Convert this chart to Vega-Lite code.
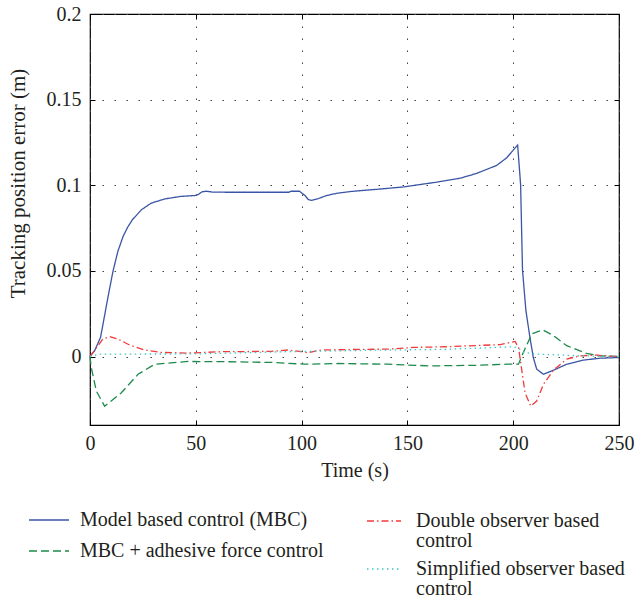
{
  "$schema": "https://vega.github.io/schema/vega-lite/v6.json",
  "width": 529,
  "height": 411,
  "autosize": "none",
  "padding": {"left": 90, "top": 14, "right": 17, "bottom": 173},
  "config": {
    "view": {"stroke": "#000", "strokeWidth": 1.2},
    "font": "Liberation Serif",
    "axis": {
      "labelFont": "Liberation Serif",
      "titleFont": "Liberation Serif",
      "labelFontSize": 20,
      "titleFontSize": 20,
      "titleFontWeight": "normal",
      "labelColor": "#231f20",
      "titleColor": "#231f20",
      "labelFlush": false,
      "domain": false,
      "tickColor": "#000",
      "tickSize": -5,
      "gridColor": "#444",
      "gridDash": [1.5, 10.5],
      "gridOpacity": 1,
      "gridWidth": 1
    }
  },
  "datasets": {
    "a": [
      {"t": 0, "v": 0, "s": "Model based control (MBC)"},
      {"t": 2.2, "v": 0.0034, "s": "Model based control (MBC)"},
      {"t": 5, "v": 0.0112, "s": "Model based control (MBC)"},
      {"t": 8.5, "v": 0.0347, "s": "Model based control (MBC)"},
      {"t": 10.9, "v": 0.05, "s": "Model based control (MBC)"},
      {"t": 13.2, "v": 0.0615, "s": "Model based control (MBC)"},
      {"t": 15.6, "v": 0.07, "s": "Model based control (MBC)"},
      {"t": 17.8, "v": 0.0755, "s": "Model based control (MBC)"},
      {"t": 20, "v": 0.0798, "s": "Model based control (MBC)"},
      {"t": 24.3, "v": 0.0857, "s": "Model based control (MBC)"},
      {"t": 29, "v": 0.0896, "s": "Model based control (MBC)"},
      {"t": 35.3, "v": 0.092, "s": "Model based control (MBC)"},
      {"t": 43, "v": 0.0935, "s": "Model based control (MBC)"},
      {"t": 49.5, "v": 0.094, "s": "Model based control (MBC)"},
      {"t": 51, "v": 0.0945, "s": "Model based control (MBC)"},
      {"t": 53, "v": 0.0962, "s": "Model based control (MBC)"},
      {"t": 55, "v": 0.0965, "s": "Model based control (MBC)"},
      {"t": 58, "v": 0.096, "s": "Model based control (MBC)"},
      {"t": 66, "v": 0.0959, "s": "Model based control (MBC)"},
      {"t": 94, "v": 0.0959, "s": "Model based control (MBC)"},
      {"t": 95, "v": 0.0965, "s": "Model based control (MBC)"},
      {"t": 99, "v": 0.0965, "s": "Model based control (MBC)"},
      {"t": 101.6, "v": 0.094, "s": "Model based control (MBC)"},
      {"t": 103.2, "v": 0.0916, "s": "Model based control (MBC)"},
      {"t": 104.8, "v": 0.0912, "s": "Model based control (MBC)"},
      {"t": 107.9, "v": 0.0922, "s": "Model based control (MBC)"},
      {"t": 111.8, "v": 0.094, "s": "Model based control (MBC)"},
      {"t": 116.6, "v": 0.0953, "s": "Model based control (MBC)"},
      {"t": 122.9, "v": 0.0963, "s": "Model based control (MBC)"},
      {"t": 129.2, "v": 0.097, "s": "Model based control (MBC)"},
      {"t": 136.3, "v": 0.0977, "s": "Model based control (MBC)"},
      {"t": 148, "v": 0.099, "s": "Model based control (MBC)"},
      {"t": 163.8, "v": 0.1018, "s": "Model based control (MBC)"},
      {"t": 174.9, "v": 0.1041, "s": "Model based control (MBC)"},
      {"t": 182.7, "v": 0.1069, "s": "Model based control (MBC)"},
      {"t": 192.2, "v": 0.1116, "s": "Model based control (MBC)"},
      {"t": 196.9, "v": 0.116, "s": "Model based control (MBC)"},
      {"t": 202.1, "v": 0.1235, "s": "Model based control (MBC)"},
      {"t": 203.5, "v": 0.1004, "s": "Model based control (MBC)"},
      {"t": 204.4, "v": 0.0504, "s": "Model based control (MBC)"},
      {"t": 206, "v": 0.0269, "s": "Model based control (MBC)"},
      {"t": 207.9, "v": 0.0112, "s": "Model based control (MBC)"},
      {"t": 209.5, "v": -0.0006, "s": "Model based control (MBC)"},
      {"t": 211.1, "v": -0.0074, "s": "Model based control (MBC)"},
      {"t": 214.3, "v": -0.0104, "s": "Model based control (MBC)"},
      {"t": 219, "v": -0.008, "s": "Model based control (MBC)"},
      {"t": 225.3, "v": -0.0045, "s": "Model based control (MBC)"},
      {"t": 233.2, "v": -0.0021, "s": "Model based control (MBC)"},
      {"t": 241, "v": -0.001, "s": "Model based control (MBC)"},
      {"t": 250, "v": -0.0006, "s": "Model based control (MBC)"},
      {"t": 0, "v": 0, "s": "MBC + adhesive force control"},
      {"t": 0.6, "v": -0.0065, "s": "MBC + adhesive force control"},
      {"t": 3, "v": -0.0202, "s": "MBC + adhesive force control"},
      {"t": 6.9, "v": -0.029, "s": "MBC + adhesive force control"},
      {"t": 14.8, "v": -0.0212, "s": "MBC + adhesive force control"},
      {"t": 22.7, "v": -0.0104, "s": "MBC + adhesive force control"},
      {"t": 30.6, "v": -0.0045, "s": "MBC + adhesive force control"},
      {"t": 46.3, "v": -0.0029, "s": "MBC + adhesive force control"},
      {"t": 62, "v": -0.003, "s": "MBC + adhesive force control"},
      {"t": 87.2, "v": -0.0035, "s": "MBC + adhesive force control"},
      {"t": 101.5, "v": -0.0045, "s": "MBC + adhesive force control"},
      {"t": 117.2, "v": -0.0041, "s": "MBC + adhesive force control"},
      {"t": 140.8, "v": -0.0045, "s": "MBC + adhesive force control"},
      {"t": 160.7, "v": -0.0055, "s": "MBC + adhesive force control"},
      {"t": 184.3, "v": -0.0051, "s": "MBC + adhesive force control"},
      {"t": 196.9, "v": -0.0045, "s": "MBC + adhesive force control"},
      {"t": 202.5, "v": -0.0045, "s": "MBC + adhesive force control"},
      {"t": 204.8, "v": 0.0024, "s": "MBC + adhesive force control"},
      {"t": 208.8, "v": 0.0132, "s": "MBC + adhesive force control"},
      {"t": 214, "v": 0.0155, "s": "MBC + adhesive force control"},
      {"t": 219, "v": 0.0122, "s": "MBC + adhesive force control"},
      {"t": 225.3, "v": 0.0063, "s": "MBC + adhesive force control"},
      {"t": 234.7, "v": 0.0018, "s": "MBC + adhesive force control"},
      {"t": 241, "v": 0.0004, "s": "MBC + adhesive force control"},
      {"t": 250, "v": 0, "s": "MBC + adhesive force control"}
    ],
    "b": [
      {"t": 0, "v": 0, "s": "Double observer based control"},
      {"t": 3.8, "v": 0.0063, "s": "Double observer based control"},
      {"t": 6.1, "v": 0.0102, "s": "Double observer based control"},
      {"t": 9.3, "v": 0.0116, "s": "Double observer based control"},
      {"t": 13.2, "v": 0.0102, "s": "Double observer based control"},
      {"t": 18.7, "v": 0.0067, "s": "Double observer based control"},
      {"t": 25.8, "v": 0.0038, "s": "Double observer based control"},
      {"t": 33.7, "v": 0.0024, "s": "Double observer based control"},
      {"t": 46.3, "v": 0.002, "s": "Double observer based control"},
      {"t": 62, "v": 0.0028, "s": "Double observer based control"},
      {"t": 85.7, "v": 0.003, "s": "Double observer based control"},
      {"t": 93.6, "v": 0.0038, "s": "Double observer based control"},
      {"t": 99.9, "v": 0.0028, "s": "Double observer based control"},
      {"t": 103, "v": 0.0022, "s": "Double observer based control"},
      {"t": 109.3, "v": 0.0038, "s": "Double observer based control"},
      {"t": 125, "v": 0.0041, "s": "Double observer based control"},
      {"t": 140.8, "v": 0.0043, "s": "Double observer based control"},
      {"t": 152.8, "v": 0.0053, "s": "Double observer based control"},
      {"t": 168.6, "v": 0.0057, "s": "Double observer based control"},
      {"t": 184.3, "v": 0.0065, "s": "Double observer based control"},
      {"t": 193.8, "v": 0.0069, "s": "Double observer based control"},
      {"t": 200.9, "v": 0.0088, "s": "Double observer based control"},
      {"t": 202.5, "v": 0.0053, "s": "Double observer based control"},
      {"t": 204.1, "v": -0.0084, "s": "Double observer based control"},
      {"t": 205.6, "v": -0.0212, "s": "Double observer based control"},
      {"t": 208.3, "v": -0.029, "s": "Double observer based control"},
      {"t": 211.1, "v": -0.026, "s": "Double observer based control"},
      {"t": 214.3, "v": -0.0162, "s": "Double observer based control"},
      {"t": 219, "v": -0.008, "s": "Double observer based control"},
      {"t": 225.3, "v": -0.0015, "s": "Double observer based control"},
      {"t": 231.6, "v": 0.0004, "s": "Double observer based control"},
      {"t": 239.5, "v": 0.0008, "s": "Double observer based control"},
      {"t": 250, "v": -0.0002, "s": "Double observer based control"},
      {"t": 0, "v": 0, "s": "Simplified observer based control"},
      {"t": 4.7, "v": 0.0014, "s": "Simplified observer based control"},
      {"t": 50, "v": 0.0015, "s": "Simplified observer based control"},
      {"t": 93, "v": 0.0028, "s": "Simplified observer based control"},
      {"t": 141, "v": 0.0038, "s": "Simplified observer based control"},
      {"t": 168.6, "v": 0.0042, "s": "Simplified observer based control"},
      {"t": 200, "v": 0.0057, "s": "Simplified observer based control"},
      {"t": 202.5, "v": 0.005, "s": "Simplified observer based control"},
      {"t": 204.8, "v": 0.0024, "s": "Simplified observer based control"},
      {"t": 211, "v": 0.0014, "s": "Simplified observer based control"},
      {"t": 223.7, "v": 0.0008, "s": "Simplified observer based control"},
      {"t": 231.6, "v": 0.0004, "s": "Simplified observer based control"},
      {"t": 250, "v": 0, "s": "Simplified observer based control"}
    ]
  },
  "layer": [
    {
      "data": {"name": "a"},
      "mark": {"type": "line", "strokeWidth": 1.3},
      "encoding": {
        "x": {
          "field": "t", "type": "quantitative",
          "scale": {"domain": [0, 250], "nice": false},
          "axis": {"orient": "bottom", "values": [0, 50, 100, 150, 200, 250], "title": "Time (s)", "labelPadding": 13, "titleBaseline": "middle", "titleY": 45, "grid": true}
        },
        "y": {
          "field": "v", "type": "quantitative",
          "scale": {"domain": [-0.04, 0.2], "nice": false, "zero": false},
          "axis": {"orient": "left", "values": [0, 0.05, 0.1, 0.15, 0.2], "format": "~g", "title": "Tracking position error (m)", "titleFontSize": 21, "labelPadding": 14, "titleAngle": -90, "titleBaseline": "middle", "titleX": -72, "titleY": 169, "grid": true}
        },
        "color": {
          "field": "s", "type": "nominal",
          "scale": {"domain": ["Model based control (MBC)", "MBC + adhesive force control"], "range": ["#3a55a5", "#1b8a4a"]},
          "legend": {"orient": "none", "legendX": -62, "legendY": 485, "title": null, "symbolType": "stroke", "symbolSize": 1600, "symbolStrokeWidth": 1.3, "labelFont": "Liberation Serif", "labelFontSize": 20, "labelColor": "#231f20", "labelOffset": 10, "rowPadding": -4, "labelLimit": 400, "direction": "vertical"}
        },
        "strokeDash": {
          "field": "s", "type": "nominal",
          "scale": {"domain": ["Model based control (MBC)", "MBC + adhesive force control"], "range": [[1, 0], [8, 4]]},
          "legend": {"orient": "none", "legendX": -62, "legendY": 485, "title": null, "symbolType": "stroke", "symbolSize": 1600, "symbolStrokeWidth": 1.3, "labelFont": "Liberation Serif", "labelFontSize": 20, "labelColor": "#231f20", "labelOffset": 10, "rowPadding": -4, "labelLimit": 400, "direction": "vertical"}
        }
      }
    },
    {
      "data": {"name": "b"},
      "mark": {"type": "line", "strokeWidth": 1.3},
      "encoding": {
        "x": {
          "field": "t", "type": "quantitative",
          "axis": {"orient": "top", "values": [0, 50, 100, 150, 200, 250], "title": null, "labels": false, "grid": false}
        },
        "y": {
          "field": "v", "type": "quantitative",
          "axis": {"orient": "right", "values": [0, 0.05, 0.1, 0.15, 0.2], "title": null, "labels": false, "grid": false}
        },
        "color": {
          "field": "s", "type": "nominal",
          "scale": {"domain": ["Double observer based control", "Simplified observer based control"], "range": ["#f23a3a", "#3cc6c6"]},
          "legend": {"orient": "none", "legendX": 276, "legendY": 489, "title": null, "symbolType": "stroke", "symbolSize": 1156, "symbolStrokeWidth": 1.3, "labelFont": "Liberation Serif", "labelFontSize": 20, "labelColor": "#231f20", "labelOffset": 14, "rowPadding": -5, "labelLimit": 400, "direction": "vertical", "labelExpr": "datum.label == 'Double observer based control' ? ['Double observer based', 'control'] : ['Simplified observer based', 'control']", "encode": {"labels": {"update": {"lineHeight": {"value": 20}}}}}
        },
        "strokeDash": {
          "field": "s", "type": "nominal",
          "scale": {"domain": ["Double observer based control", "Simplified observer based control"], "range": [[7, 3, 1.5, 3], [1.5, 3.5]]},
          "legend": {"orient": "none", "legendX": 276, "legendY": 489, "title": null, "symbolType": "stroke", "symbolSize": 1156, "symbolStrokeWidth": 1.3, "labelFont": "Liberation Serif", "labelFontSize": 20, "labelColor": "#231f20", "labelOffset": 14, "rowPadding": -5, "labelLimit": 400, "direction": "vertical", "labelExpr": "datum.label == 'Double observer based control' ? ['Double observer based', 'control'] : ['Simplified observer based', 'control']", "encode": {"labels": {"update": {"lineHeight": {"value": 20}}}}}
        }
      }
    }
  ],
  "resolve": {
    "scale": {"color": "independent", "strokeDash": "independent"},
    "axis": {"x": "independent", "y": "independent"}
  }
}
